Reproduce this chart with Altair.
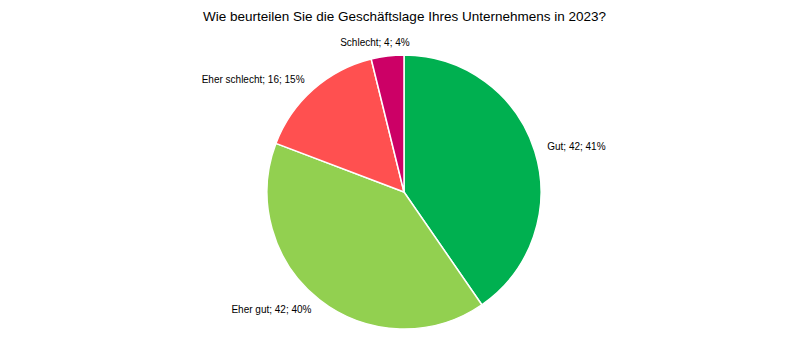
import altair as alt
import pandas as pd

categories = ["Gut", "Eher gut", "Eher schlecht", "Schlecht"]
counts = [42, 42, 16, 4]
percents = ["41%", "40%", "15%", "4%"]
colors = ["#00B050", "#92D050", "#FF5050", "#CC0066"]
label_align = ["left", "right", "right", "center"]

df = pd.DataFrame({
    "cat": categories,
    "count": counts,
    "idx": list(range(len(categories))),
    "label": [f"{c}; {n}; {p}" for c, n, p in zip(categories, counts, percents)],
    "al": label_align,
})

FONT = "Liberation Sans"
CX, CY = 404, 157

base = alt.Chart(df).encode(
    theta=alt.Theta("count:Q", stack=True),
    order=alt.Order("idx:Q"),
    x=alt.value(CX),
    y=alt.value(CY),
)

pie = base.mark_arc(outerRadius=137, stroke="white", strokeWidth=1.5).encode(
    color=alt.Color("cat:N", scale=alt.Scale(domain=categories, range=colors), legend=None)
)

def label_layer(a, dx=0):
    return base.mark_text(radius=150, align=a, baseline="middle", fontSize=10, dx=dx,
                          font=FONT, color="#000000").encode(
        text=alt.condition(f"datum.al == '{a}'", alt.Text("label:N"), alt.value(""))
    )

chart = alt.layer(pie, label_layer("left"), label_layer("right"), label_layer("center", -11)).properties(
    width=809,
    height=326,
    title=alt.Title("Wie beurteilen Sie die Geschäftslage Ihres Unternehmens in 2023?",
                    font=FONT, fontSize=13.5, fontWeight="normal", color="#000000",
                    anchor="middle", offset=12),
    autosize=alt.AutoSizeParams(type="none"),
    padding={"top": 35, "left": 0, "right": 0, "bottom": 0},
).configure_view(stroke=None)

chart.save("out.html", embed_options={"renderer": "svg", "actions": False})
